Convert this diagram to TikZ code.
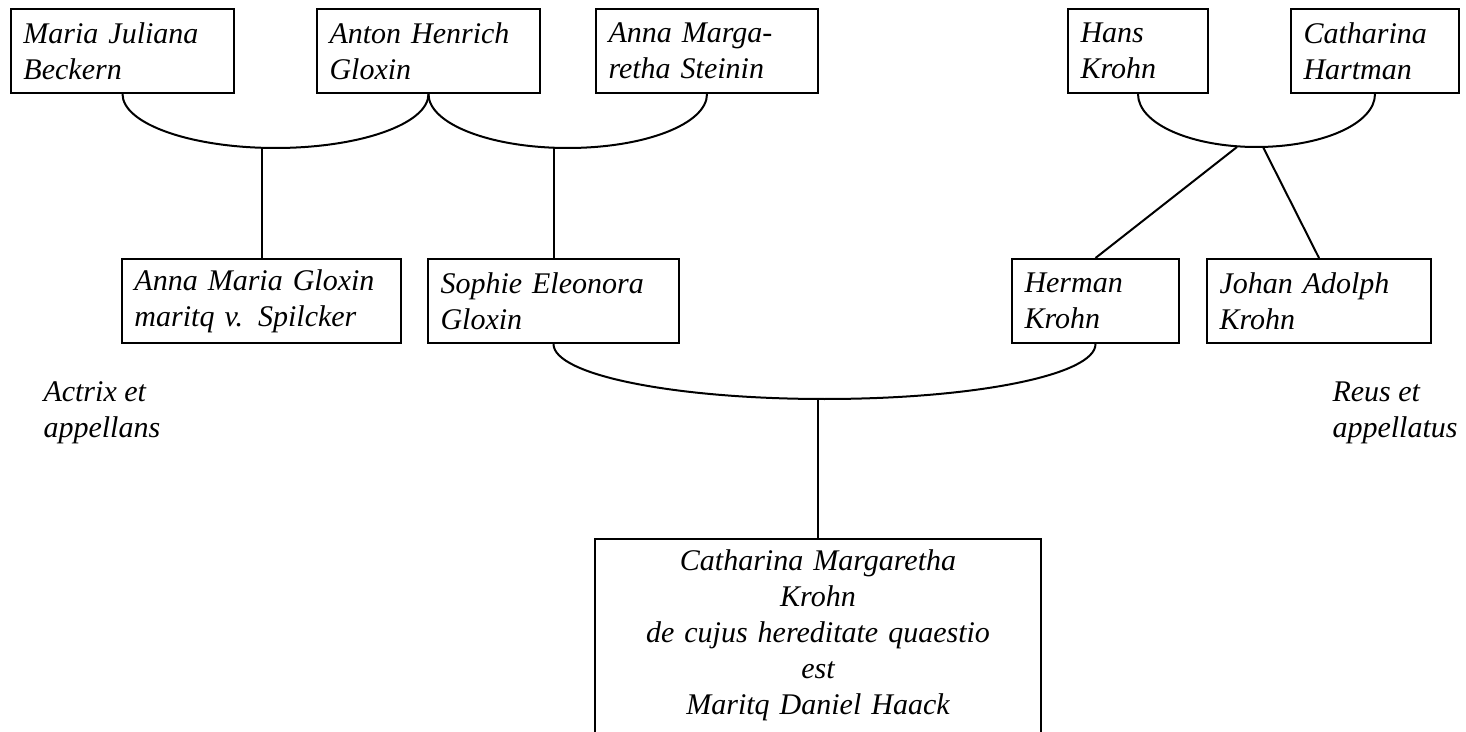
\documentclass[tikz,border=0pt]{standalone}
\usepackage{fontspec}
\setmainfont{Liberation Serif}
\usetikzlibrary{calc}
\tikzstyle{person}=[draw,line width=0.8pt,minimum height=33.6pt,inner xsep=5pt,inner ysep=0pt,align=left,font=\itshape\fontsize{12pt}{14.4pt}\selectfont]
\tikzstyle{party}=[inner sep=0pt,align=left,font=\itshape\fontsize{12pt}{14.4pt}\selectfont]
\tikzstyle{bond}=[line width=0.8pt]

\begin{document}
\begin{tikzpicture}[x=0.4pt,y=-0.4pt]
	\useasboundingbox (0,0) rectangle (1466,732);
	% first generation
	\node[person,text width=79.2pt] (beckern) at (122.5,51) {Maria Juliana\\Beckern};
	\node[person,text width=79.2pt] (gloxin) at (428.5,51) {Anton Henrich\\Gloxin};
	\node[person,text width=78.8pt] (steinin) at (707,51) {Anna Marga-\\retha Steinin};
	\node[person,text width=46pt] (hans) at (1138,51) {Hans\\Krohn};
	\node[person,text width=57.2pt] (hartman) at (1375,51) {Catharina\\Hartman};
	% second generation
	\node[person,text width=101.6pt] (annamaria) at (261.5,301) {Anna Maria Gloxin\\maritq v. Spilcker};
	\node[person,text width=90.4pt] (sophie) at (553.5,301) {Sophie Eleonora\\Gloxin};
	\node[person,text width=56.8pt] (herman) at (1095.5,301) {Herman\\Krohn};
	\node[person,text width=79.6pt] (johan) at (1319,301) {Johan Adolph\\Krohn};
	\node[person,anchor=north,align=center,text width=168.4pt,inner ysep=4.4pt] (heir) at (818,538)
		{Catharina Margaretha\\Krohn\\de cujus hereditate quaestio\\est\\Maritq Daniel Haack\rule[-25pt]{0pt}{25pt}};
	% parties
	\node[party,anchor=west] (actrix) at (43,413) {Actrix et\\appellans};
	\node[party,anchor=west] (reus) at (1332,413) {Reus et\\appellatus};

	% marriages
	\coordinate (bg) at (275.5,148);
	\coordinate (gs) at (567.75,148);
	\coordinate (hh) at (1256.5,147);
	\coordinate (sh) at (824.5,399);
	\coordinate (k1) at (1237,147);
	\coordinate (k2) at (1263,147);
	\draw[bond] (beckern.south) .. controls +(0,30) and +(-84,0) .. (bg) .. controls +(84,0) and +(0,30) .. (gloxin.south);
	\draw[bond] (gloxin.south) .. controls +(0,30) and +(-77,0) .. (gs) .. controls +(77,0) and +(0,30) .. (steinin.south);
	\draw[bond] (hans.south) .. controls +(0,30) and +(-65,0) .. (hh) .. controls +(65,0) and +(0,30) .. (hartman.south);
	\draw[bond] (sophie.south) .. controls +(0,31) and +(-150,0) .. (sh) .. controls +(150,0) and +(0,31) .. (herman.south);
	% children
	\draw[bond] (annamaria.north) -- (annamaria.north |- bg);
	\draw[bond] (sophie.north) -- (sophie.north |- gs);
	\draw[bond] (k1) -- (herman.north);
	\draw[bond] (k2) -- (johan.north);
	\draw[bond] (heir.north) -- (heir.north |- sh);
\end{tikzpicture}
\end{document}
